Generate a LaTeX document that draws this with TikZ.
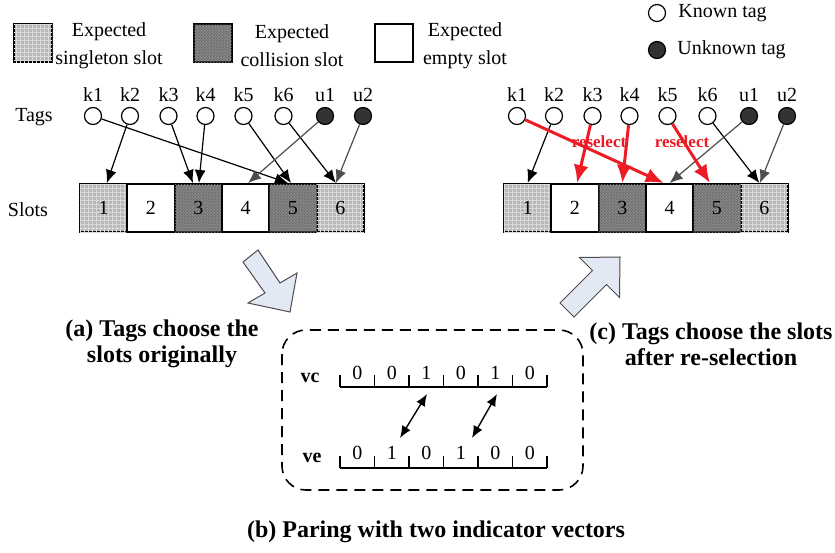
\documentclass[tikz,border=0pt]{standalone}
\usepackage{fontspec}
\setmainfont{Liberation Serif}
\usepackage{xcolor}
\usetikzlibrary{arrows.meta, patterns.meta}

\definecolor{tagdark}{HTML}{333333}
\definecolor{arrowgray}{HTML}{4D4D4D}
\definecolor{reselred}{HTML}{ED1C24}
\definecolor{blockblue}{HTML}{E2E9F5}

\tikzdeclarepattern{
  name=finegrid,
  type=uncolored,
  bottom left={(-0.1pt,-0.1pt)},
  top right={(2.1pt,2.1pt)},
  tile size={(2pt,2pt)},
  code={
    \draw[line width=0.25pt] (0pt,0pt) -- (2pt,0pt) (0pt,0pt) -- (0pt,2pt);
  }
}
\tikzdeclarepattern{
  name=finechecker,
  type=uncolored,
  bottom left={(0pt,0pt)},
  top right={(1.6pt,1.6pt)},
  tile size={(1.6pt,1.6pt)},
  code={
    \fill (0pt,0pt) rectangle (0.8pt,0.8pt) (0.8pt,0.8pt) rectangle (1.6pt,1.6pt);
  }
}

\begin{document}
\begin{tikzpicture}[x=0.5pt, y=-0.5pt, font=\fontsize{10}{14}\selectfont,
	known/.style={circle, draw, line width=0.6pt, fill=white, minimum size=8.5pt, inner sep=0pt},
	unknown/.style={known, fill=tagdark},
	slotbox/.style={draw, line width=1pt, minimum width=23.67pt, minimum height=24pt, inner sep=0pt},
	singleslot/.style={slotbox, fill=black!28, postaction={pattern=finegrid, pattern color=white!85!black}},
	collslot/.style={slotbox, fill=black!45, postaction={pattern=finechecker, pattern color=black!60}},
	emptyslot/.style={slotbox, fill=white},
	tagarrow/.style={-{Latex[length=6.5pt,width=5.5pt]}, line width=0.6pt},
	grayarrow/.style={tagarrow, arrowgray},
	redarrow/.style={-{Latex[length=9pt,width=7.5pt]}, line width=1.5pt, reselred},
	caption/.style={font=\fontsize{12}{13}\selectfont\bfseries, align=center},
	blockarrow/.style={fill=blockblue, draw=black!70, line width=0.5pt, line join=miter}
]
	\useasboundingbox (0,0) rectangle (835,552);
	
	% legend
	\node[singleslot, minimum width=19pt, minimum height=19pt] (leg-single) at (33,43) {};
	\node[collslot, minimum width=19pt, minimum height=19pt] (leg-coll) at (212.5,43) {};
	\node[emptyslot, minimum width=19pt, minimum height=19pt] (leg-empty) at (393.5,43) {};
	\node[align=center] (leg-single-txt) at (109,46) {Expected\\singleton slot};
	\node[align=center] (leg-coll-txt) at (292,46) {Expected\\collision slot};
	\node[align=center] (leg-empty-txt) at (465,46) {Expected\\empty slot};
	\node[known] (leg-known) at (657,13) {};
	\node[unknown] (leg-unknown) at (657,50) {};
	\node[anchor=west, inner sep=0pt] (leg-known-txt) at (678,13) {Known tag};
	\node[anchor=west, inner sep=0pt] (leg-unknown-txt) at (677,50) {Unknown tag};
	
	\node (tags-lbl) at (34,117) {Tags};
	\node (slots-lbl) at (28,210) {Slots};
	
	% tags of both panels
	\foreach \name/\xx/\kind in {k1/93/known, k2/130/known, k3/168.5/known, k4/205.5/known,
		k5/243.5/known, k6/283.5/known, u1/325/unknown, u2/363/unknown}{
		\node[\kind] (a-\name) at (\xx,116) {};
		\node[\kind] (c-\name) at (\xx+424,116) {};
		\node (a-\name-lbl) at (\xx,95) {\name};
		\node (c-\name-lbl) at (\xx+424,95) {\name};
	}
	
	% slots of both panels
	\foreach \i/\kind in {1/singleslot, 2/emptyslot, 3/collslot, 4/emptyslot, 5/collslot, 6/singleslot}{
		\node[\kind] (a-s\i) at (80+47.33*\i-23.67,208) {\i};
		\node[\kind] (c-s\i) at (504+47.33*\i-23.67,208) {\i};
	}
	
	% (a) original choice
	\draw[tagarrow] (a-k1) -- ([xshift=-2.5pt]a-s5.north);
	\draw[tagarrow] (a-k2) -- ([xshift=1.6pt]a-s1.north);
	\draw[tagarrow] (a-k3) -- ([xshift=-2.7pt]a-s3.north);
	\draw[tagarrow] (a-k4) -- ([xshift=0.3pt]a-s3.north);
	\draw[tagarrow] (a-k5) -- ([xshift=-1pt]a-s5.north);
	\draw[tagarrow] (a-k6) -- ([xshift=-2.2pt]a-s6.north);
	\draw[grayarrow] (a-u1) -- ([xshift=1.2pt]a-s4.north);
	\draw[grayarrow] (a-u2) -- ([xshift=-2.2pt]a-s6.north);
	
	% (c) after re-selection
	\draw[tagarrow] (c-k2) -- (c-s1.north);
	\draw[tagarrow] (c-k6) -- ([xshift=-2.5pt]c-s6.north);
	\draw[grayarrow] (c-u1) -- (c-s4.north);
	\draw[grayarrow] (c-u2) -- ([xshift=-2.2pt]c-s6.north);
	\draw[redarrow] (c-k1) -- ([xshift=-3pt]c-s4.north);
	\draw[redarrow] (c-k3) -- ([xshift=1pt]c-s2.north);
	\draw[redarrow] (c-k4) -- (c-s3.north);
	\draw[redarrow] (c-k5) -- ([xshift=-3.5pt]c-s5.north);
	\node[font=\fontsize{8.5}{10}\selectfont\bfseries, text=reselred] (resel1) at (599,142) {reselect};
	\node[font=\fontsize{8.5}{10}\selectfont\bfseries, text=reselred] (resel2) at (682,142) {reselect};
	
	% block arrows
	\filldraw[blockarrow] (258,250) -- (243,262) -- (265,293) -- (248,303) -- (290,312)
		-- (297,273) -- (280,283) -- cycle;
	\filldraw[blockarrow] (560,303) -- (592.5,270.5) -- (579.5,257.5) -- (620,257)
		-- (619.5,297.5) -- (606.5,284.5) -- (574,317) -- cycle;
	
	% (b) indicator vectors
	\draw[dash pattern=on 5.5pt off 3.5pt, line width=0.8pt, rounded corners=12pt] (282,330) rectangle (583,490);
	\node[font=\bfseries] (vc) at (310,378) {vc};
	\node[font=\bfseries] (ve) at (312,458) {ve};
	\draw[line width=1pt] (340,387) -- (547,387);
	\draw[line width=1pt] (340,468) -- (547,468);
	\foreach \i in {0,...,6}{
		\draw[line width=0.8pt] (340+34.5*\i,375) -- (340+34.5*\i,387);
		\draw[line width=0.8pt] (340+34.5*\i,456) -- (340+34.5*\i,468);
	}
	\foreach \d [count=\i] in {0,0,1,0,1,0}
		\node (vc\i) at (340+34.5*\i-17.25,373) {\d};
	\foreach \d [count=\i] in {0,1,0,1,0,0}
		\node (ve\i) at (340+34.5*\i-17.25,453) {\d};
	
	\coordinate (vc-p3) at (427,394);
	\coordinate (ve-p2) at (400,438);
	\coordinate (vc-p5) at (497,394);
	\coordinate (ve-p4) at (472,438);
	\draw[{Latex[length=6pt,width=5pt]}-{Latex[length=6pt,width=5pt]}, line width=0.7pt] (vc-p3) -- (ve-p2);
	\draw[{Latex[length=6pt,width=5pt]}-{Latex[length=6pt,width=5pt]}, line width=0.7pt] (vc-p5) -- (ve-p4);
	
	% captions
	\node[caption] (cap-a) at (162,344) {(a) Tags choose the\\slots originally};
	\node[caption] (cap-c) at (711,344) {(c) Tags choose the slots\\after re-selection};
	\node[caption] (cap-b) at (436,532) {(b) Paring with two indicator vectors};
\end{tikzpicture}
\end{document}
